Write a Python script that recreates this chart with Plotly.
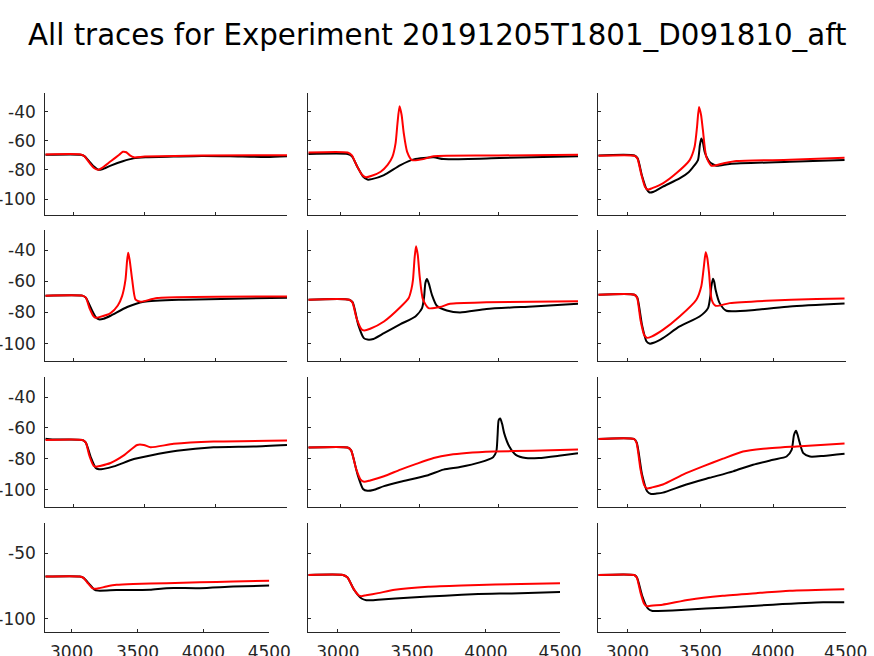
import plotly.graph_objects as go

TITLE = "All traces for Experiment 20191205T1801_D091810_aft"
X_TICKS = [3000, 3500, 4000, 4500]
X_TICK_TEXT = ["3000", "3500", "4000", "4500"]
Y_TICKS_TOP = [-40, -60, -80, -100]
Y_TICK_TEXT_TOP = ["-40", "-60", "-80", "-100"]
Y_TICKS_BOTTOM = [-50, -100]
Y_TICK_TEXT_BOTTOM = ["-50", "-100"]

# ---- panel data ----
P11_BLACK_X = [2800, 3049, 3075, 3100, 3140, 3173, 3200, 3260, 3345, 3420, 3505, 3700, 3900, 4100, 4357, 4500]
P11_BLACK_Y = [-69.5, -69.5, -70.5, -73, -77.5, -79.8, -79.5, -77, -74, -72, -71.3, -70.8, -70.3, -70.5, -71, -70.5]
P11_RED_X = [2800, 3049, 3075, 3110, 3145, 3173, 3200, 3260, 3320, 3345, 3370, 3395, 3423, 3500, 3900, 4500]
P11_RED_Y = [-69.3, -69.3, -70.5, -75, -78.8, -79.8, -78.5, -74, -69.5, -67.5, -67.8, -70, -71.3, -70.8, -70, -69.8]

P12_BLACK_X = [2800, 3048, 3075, 3110, 3145, 3173, 3200, 3277, 3381, 3465, 3590, 3652, 4006, 4500]
P12_BLACK_Y = [-69, -69, -70.5, -78, -84.5, -86.6, -86.3, -83.5, -76.6, -72.7, -71.3, -72.5, -71.8, -70.5]
P12_RED_X = [2800, 3048, 3075, 3105, 3140, 3162, 3200, 3256, 3300, 3330, 3350, 3362, 3375, 3388, 3402, 3423, 3454, 3527, 3590, 4000, 4500]
P12_RED_Y = [-68, -68, -70, -77, -83.5, -85, -84, -81.2, -76.5, -71, -61.7, -48, -36.1, -42, -54.9, -67.5, -73.2, -72.5, -70.5, -70, -69.6]

P13_BLACK_X = [2800, 3048, 3070, 3100, 3130, 3151, 3180, 3243, 3358, 3420, 3449, 3484, 3497, 3507, 3518, 3530, 3564, 3610, 3702, 4115, 4490]
P13_BLACK_Y = [-70, -70, -72, -84, -93, -95.5, -95, -91.5, -85.8, -81.5, -78.2, -73.2, -63, -58.3, -61, -67.5, -74.4, -77.1, -75.8, -74.4, -73.2]
P13_RED_X = [2800, 3048, 3068, 3095, 3120, 3140, 3170, 3243, 3335, 3427, 3461, 3478, 3491, 3505, 3518, 3541, 3576, 3656, 3748, 4115, 4490]
P13_RED_Y = [-70.2, -70.2, -72, -83, -91.5, -93.5, -92.5, -89.2, -82.3, -73.2, -64, -50, -36.6, -42, -52.6, -70.9, -77.1, -75.5, -73.9, -73, -71.6]

P21_BLACK_X = [2800, 3061, 3085, 3120, 3155, 3177, 3210, 3259, 3376, 3493, 3773, 4124, 4500]
P21_BLACK_Y = [-69.2, -69.2, -70.5, -77, -83, -84.4, -84, -82.1, -76.5, -73.1, -71.8, -71.2, -70.5]
P21_RED_X = [2800, 3061, 3085, 3110, 3140, 3154, 3180, 3259, 3310, 3340, 3364, 3375, 3383, 3393, 3411, 3435, 3470, 3587, 4500]
P21_RED_Y = [-69.2, -69.2, -70.5, -77, -82.5, -83.4, -83, -80.4, -75.5, -69.5, -58.9, -47, -41.7, -46, -58.9, -71.8, -73.1, -70.7, -69.7]

P22_BLACK_X = [2800, 3058, 3080, 3115, 3150, 3173, 3210, 3277, 3381, 3475, 3517, 3530, 3538, 3548, 3560, 3579, 3610, 3673, 3756, 3923, 4215, 4500]
P22_BLACK_Y = [-71.8, -71.8, -73.5, -88, -96.5, -97.4, -97, -93.3, -87.5, -82.6, -77.2, -70, -61, -58.5, -61.5, -68.6, -75.7, -78.7, -80, -77.8, -76.1, -74.4]
P22_RED_X = [2800, 3058, 3078, 3105, 3135, 3152, 3190, 3277, 3381, 3433, 3450, 3460, 3470, 3479, 3490, 3502, 3523, 3558, 3631, 3694, 3923, 4500]
P22_RED_Y = [-71.8, -71.8, -73.5, -84, -90.8, -91.6, -90.5, -85.8, -76.5, -70.7, -65, -58.9, -45, -37.4, -43, -56.8, -71.8, -77.2, -76.5, -74.4, -73.5, -72.8]

P23_BLACK_X = [2800, 3048, 3068, 3100, 3130, 3151, 3180, 3243, 3358, 3495, 3553, 3568, 3576, 3587, 3596, 3605, 3633, 3679, 3885, 4115, 4490]
P23_BLACK_Y = [-68.6, -68.6, -70.5, -88, -98.5, -100, -99.5, -96.5, -89, -82.6, -77.2, -70, -63.2, -58.3, -60.5, -65.4, -74, -78.9, -78.3, -76.1, -74.2]
P23_RED_X = [2800, 3048, 3066, 3090, 3115, 3133, 3165, 3243, 3358, 3473, 3507, 3525, 3537, 3548, 3560, 3578, 3605, 3702, 3954, 4298, 4490]
P23_RED_Y = [-68.6, -68.6, -70.5, -85, -94.5, -96.3, -95.5, -91.2, -82.6, -71.8, -63.2, -50, -41.3, -45, -54.6, -71.8, -75.7, -74, -72.5, -71.3, -71]

P31_BLACK_X = [2800, 2850, 3061, 3085, 3120, 3155, 3177, 3210, 3282, 3423, 3540, 3726, 3983, 4264, 4500]
P31_BLACK_Y = [-67, -67.5, -67.8, -69.5, -79, -86, -86.8, -86.5, -84.9, -80.1, -77.8, -74.8, -72.5, -72, -71]
P31_RED_X = [2800, 3061, 3085, 3110, 3140, 3154, 3185, 3259, 3352, 3446, 3493, 3540, 3703, 3983, 4500]
P31_RED_Y = [-67.8, -67.8, -69.5, -78, -84.5, -85.1, -84.6, -82.7, -77.8, -71, -71, -72.5, -70.3, -68.8, -68.2]

P32_BLACK_X = [2800, 3048, 3070, 3110, 3145, 3173, 3210, 3277, 3381, 3548, 3652, 3756, 3881, 3965, 3985, 3993, 4000, 4010, 4022, 4035, 4067, 4108, 4171, 4254, 4379, 4500]
P32_BLACK_Y = [-72.7, -72.7, -74.5, -90, -99.5, -100.7, -100.2, -97.7, -94.9, -90.8, -87, -85.3, -82.3, -78.9, -75.3, -65, -54.9, -53.9, -57.5, -63.5, -72, -77.4, -79.5, -79.5, -78, -76.3]
P32_RED_X = [2800, 3048, 3070, 3100, 3130, 3152, 3190, 3277, 3381, 3485, 3590, 3694, 3798, 3965, 4215, 4500]
P32_RED_Y = [-72.7, -72.7, -74.5, -86, -93.5, -94.9, -94, -91.3, -87, -83.1, -79.5, -77.4, -76.3, -75.3, -74.7, -74]

P33_BLACK_X = [2800, 3044, 3064, 3100, 3135, 3162, 3200, 3243, 3404, 3564, 3725, 3862, 4000, 4092, 4127, 4143, 4157, 4168, 4180, 4207, 4253, 4345, 4490]
P33_BLACK_Y = [-67.1, -67.1, -69.5, -90, -101, -102.8, -102.5, -101.9, -96.6, -92.3, -88.1, -83.8, -80.6, -78.5, -74.2, -64.6, -61.8, -64.5, -68.8, -76.3, -78.5, -78.1, -76.7]
P33_RED_X = [2800, 3044, 3062, 3090, 3115, 3133, 3170, 3243, 3381, 3518, 3656, 3793, 3931, 4161, 4490]
P33_RED_Y = [-67.1, -67.1, -69.5, -87, -97, -99.2, -98.5, -96.6, -90.2, -84.9, -79.9, -75.3, -73.5, -72, -70.1]

P41_BLACK_X = [2800, 3061, 3090, 3130, 3170, 3200, 3340, 3593, 3720, 3973, 4226, 4500]
P41_BLACK_Y = [-67.8, -67.8, -68.8, -73, -77.5, -78.5, -78.1, -77.9, -76.6, -76.6, -75.4, -74.6]
P41_RED_X = [2800, 3061, 3090, 3120, 3155, 3175, 3210, 3264, 3340, 3467, 3720, 3973, 4226, 4500]
P41_RED_Y = [-67.8, -67.8, -68.8, -72.5, -76.5, -77.1, -76.6, -75.4, -74.1, -73.4, -72.9, -72.1, -71.6, -70.9]

P42_BLACK_X = [2800, 3034, 3065, 3110, 3160, 3192, 3230, 3271, 3497, 3723, 3948, 4174, 4500]
P42_BLACK_Y = [-66.6, -66.6, -68.5, -78, -84.5, -85.8, -85.8, -85.4, -83.7, -82.4, -81.1, -80.6, -79.6]
P42_RED_X = [2800, 3034, 3065, 3100, 3140, 3158, 3190, 3271, 3384, 3610, 3835, 4061, 4500]
P42_RED_Y = [-66.6, -66.6, -68.5, -76, -82, -82.7, -82, -80.4, -77.9, -75.6, -74.6, -73.9, -72.9]

P43_BLACK_X = [2800, 3046, 3066, 3100, 3140, 3172, 3210, 3310, 3540, 3770, 4000, 4345, 4490]
P43_BLACK_Y = [-66.6, -66.6, -68.5, -82, -92, -94, -94, -93.7, -92.2, -90.7, -89.2, -87.4, -87.4]
P43_RED_X = [2800, 3046, 3064, 3090, 3115, 3131, 3160, 3241, 3425, 3655, 3885, 4115, 4490]
P43_RED_Y = [-66.6, -66.6, -68.5, -80, -88.5, -90.3, -90, -89.2, -85.4, -82.4, -80.4, -78.6, -77.4]

PANELS = [
    (P11_BLACK_X, P11_BLACK_Y, P11_RED_X, P11_RED_Y),
    (P12_BLACK_X, P12_BLACK_Y, P12_RED_X, P12_RED_Y),
    (P13_BLACK_X, P13_BLACK_Y, P13_RED_X, P13_RED_Y),
    (P21_BLACK_X, P21_BLACK_Y, P21_RED_X, P21_RED_Y),
    (P22_BLACK_X, P22_BLACK_Y, P22_RED_X, P22_RED_Y),
    (P23_BLACK_X, P23_BLACK_Y, P23_RED_X, P23_RED_Y),
    (P31_BLACK_X, P31_BLACK_Y, P31_RED_X, P31_RED_Y),
    (P32_BLACK_X, P32_BLACK_Y, P32_RED_X, P32_RED_Y),
    (P33_BLACK_X, P33_BLACK_Y, P33_RED_X, P33_RED_Y),
    (P41_BLACK_X, P41_BLACK_Y, P41_RED_X, P41_RED_Y),
    (P42_BLACK_X, P42_BLACK_Y, P42_RED_X, P42_RED_Y),
    (P43_BLACK_X, P43_BLACK_Y, P43_RED_X, P43_RED_Y),
]

# ---- layout geometry (pixels) ----
W, H = 874, 656
ROW_Y = [(93, 215), (230, 360.7), (377, 506.7), (523, 632)]
COL_X_TOP = [(45.3, 287), (308.3, 578), (598.3, 846)]
COL_X_BOTTOM = [(45.3, 269.3), (308.3, 560), (598.3, 845.7)]
FONT = "DejaVu Sans, Liberation Sans, sans-serif"
AX_COLOR = "#262626"
TICK_SIZE = 17

fig = go.Figure()
layout = dict(
    width=W, height=H,
    margin=dict(l=0, r=0, t=0, b=0, autoexpand=False),
    paper_bgcolor="white", plot_bgcolor="white",
    showlegend=False,
    font=dict(family=FONT, size=TICK_SIZE, color=AX_COLOR),
)

for i, (bx, by, rx, ry) in enumerate(PANELS):
    r, c = divmod(i, 3)
    n = i + 1
    xs = "x" if n == 1 else f"x{n}"
    ys = "y" if n == 1 else f"y{n}"
    fig.add_trace(go.Scatter(x=bx, y=by, mode="lines", line=dict(color="black", width=2, shape="spline", smoothing=0.6),
                             xaxis=xs, yaxis=ys, hoverinfo="skip"))
    fig.add_trace(go.Scatter(x=rx, y=ry, mode="lines", line=dict(color="#ff0000", width=2, shape="spline", smoothing=0.6),
                             xaxis=xs, yaxis=ys, hoverinfo="skip"))
    cx = (COL_X_BOTTOM if r == 3 else COL_X_TOP)[c]
    y0, y1 = ROW_Y[r]
    xa = dict(
        domain=[cx[0] / W, cx[1] / W], anchor=ys, range=[2800, 4500], automargin=False,
        tickvals=X_TICKS, ticktext=X_TICK_TEXT, showticklabels=(r == 3), ticks="inside", ticklen=3,
        tickcolor=AX_COLOR, showline=True, linecolor=AX_COLOR, linewidth=1, ticklabelstandoff=5,
        showgrid=False, zeroline=False, tickfont=dict(size=TICK_SIZE, color=AX_COLOR),
    )
    ya = dict(
        domain=[1 - y1 / H, 1 - y0 / H], anchor=xs, automargin=False,
        range=[-110, -27] if r == 3 else [-111, -27],
        tickvals=Y_TICKS_BOTTOM if r == 3 else Y_TICKS_TOP,
        ticktext=Y_TICK_TEXT_BOTTOM if r == 3 else Y_TICK_TEXT_TOP,
        showticklabels=(c == 0), ticks="inside", ticklen=3, ticklabelstandoff=5,
        tickcolor=AX_COLOR, showline=True, linecolor=AX_COLOR, linewidth=1,
        showgrid=False, zeroline=False, tickfont=dict(size=TICK_SIZE, color=AX_COLOR),
    )
    layout["xaxis" if n == 1 else f"xaxis{n}"] = xa
    layout["yaxis" if n == 1 else f"yaxis{n}"] = ya

layout["annotations"] = [dict(
    text=TITLE, x=0.5, y=1 - 35 / H, xref="paper", yref="paper",
    xanchor="center", yanchor="middle", showarrow=False,
    font=dict(family=FONT, size=29.3, color="black"),
)]
fig.update_layout(**layout)
fig.write_html("out.html", config={"displayModeBar": False, "staticPlot": True},
               post_script="document.body.style.margin='0';document.body.style.overflow='hidden';")
